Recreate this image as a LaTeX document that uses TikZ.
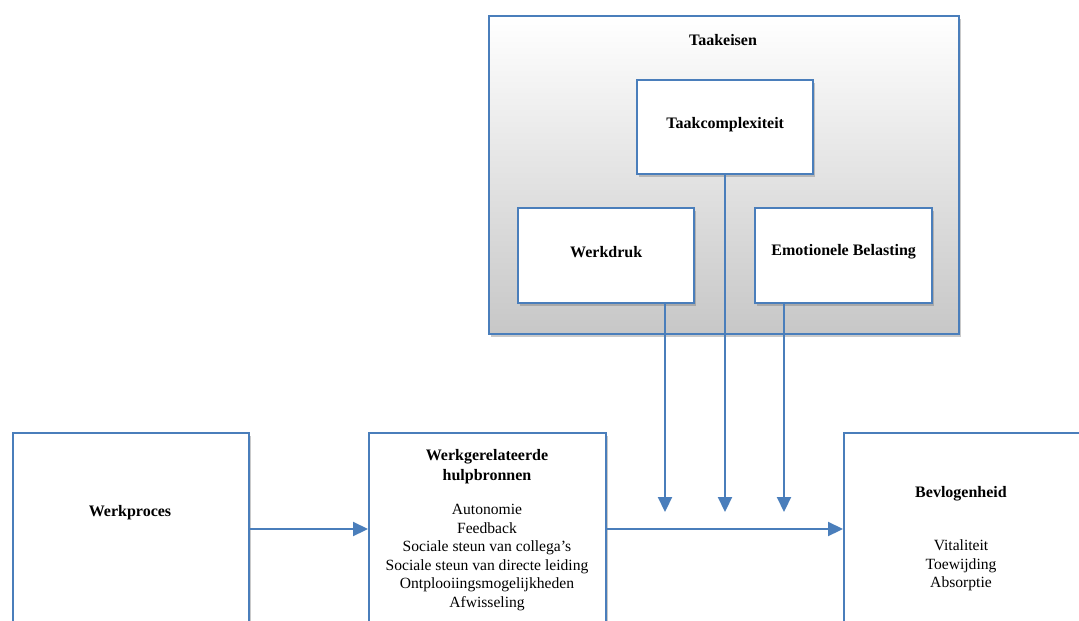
\documentclass[tikz,border=0pt]{standalone}
\usepackage{fontspec}
\setmainfont{Liberation Serif}
\usetikzlibrary{shadows,arrows.meta}
\definecolor{bl}{HTML}{4A7EBB}
\begin{document}
\begin{tikzpicture}[x=1pt,y=-1pt,
  box/.style={draw=bl, line width=2.4pt, fill=white, inner sep=0pt, anchor=north west,
    drop shadow={shadow xshift=2pt, shadow yshift=-3pt, opacity=0.35, fill=black!60}},
  lbl/.style={font=\fontsize{16}{20}\selectfont\bfseries, align=center, inner sep=0pt},
  txt/.style={font=\fontsize{15.6}{18.6}\selectfont, align=center, inner sep=0pt},
  arr/.style={draw=bl, line width=2.2pt, -{Triangle[length=15pt,width=14pt]}}]
\clip (0,0) rectangle (1079,621);
\fill[white] (0,0) rectangle (1079,621);
% Taakeisen group
\node[box, top color=white, bottom color=black!22, minimum width=470pt, minimum height=318pt] (taak) at (488,15) {};
\node[lbl] (taaklbl) at (723,40) {Taakeisen};
\node[box, minimum width=176pt, minimum height=94pt] (complex) at (636,79) {};
\node[lbl] at (complex.center) [yshift=3pt] {Taakcomplexiteit};
\node[box, minimum width=176pt, minimum height=95pt] (werkdruk) at (517,207) {};
\node[lbl] at (werkdruk.center) [yshift=4pt] {Werkdruk};
\node[box, minimum width=177pt, minimum height=95pt] (emo) at (754,207) {};
\node[lbl] at (emo.center) [yshift=4pt] {Emotionele Belasting};
% bottom row
\node[box, minimum width=236pt, minimum height=260pt] (proces) at (12,432) {};
\node[lbl] (proceslbl) at (130,513) {Werkproces};
\node[box, minimum width=237pt, minimum height=260pt] (hulp) at (368,432) {};
\node[lbl] (hulplbl) at (487,467) {Werkgerelateerde\\hulpbronnen};
\node[txt] (hulptxt) at (487,557.5) {Autonomie\\Feedback\\Sociale steun van collega’s\\Sociale steun van directe leiding\\Ontplooiingsmogelijkheden\\Afwisseling};
\node[box, minimum width=260pt, minimum height=260pt] (bev) at (843,432) {};
\node[lbl] (bevlbl) at (961,494) {Bevlogenheid};
\node[txt] (bevtxt) at (961,565.5) {Vitaliteit\\Toewijding\\Absorptie};
% connectors
\coordinate (hy) at (0,529);
\draw[arr] (proces.east |- hy) -- (hulp.west |- hy);
\draw[arr] (hulp.east |- hy) -- (bev.west |- hy);
\coordinate (t1) at (665,512);
\coordinate (t2) at (725,512);
\coordinate (t3) at (784,512);
\draw[arr] (werkdruk.south -| t1) -- (t1);
\draw[arr] (complex.south -| t2) -- (t2);
\draw[arr] (emo.south -| t3) -- (t3);
\end{tikzpicture}
\end{document}
